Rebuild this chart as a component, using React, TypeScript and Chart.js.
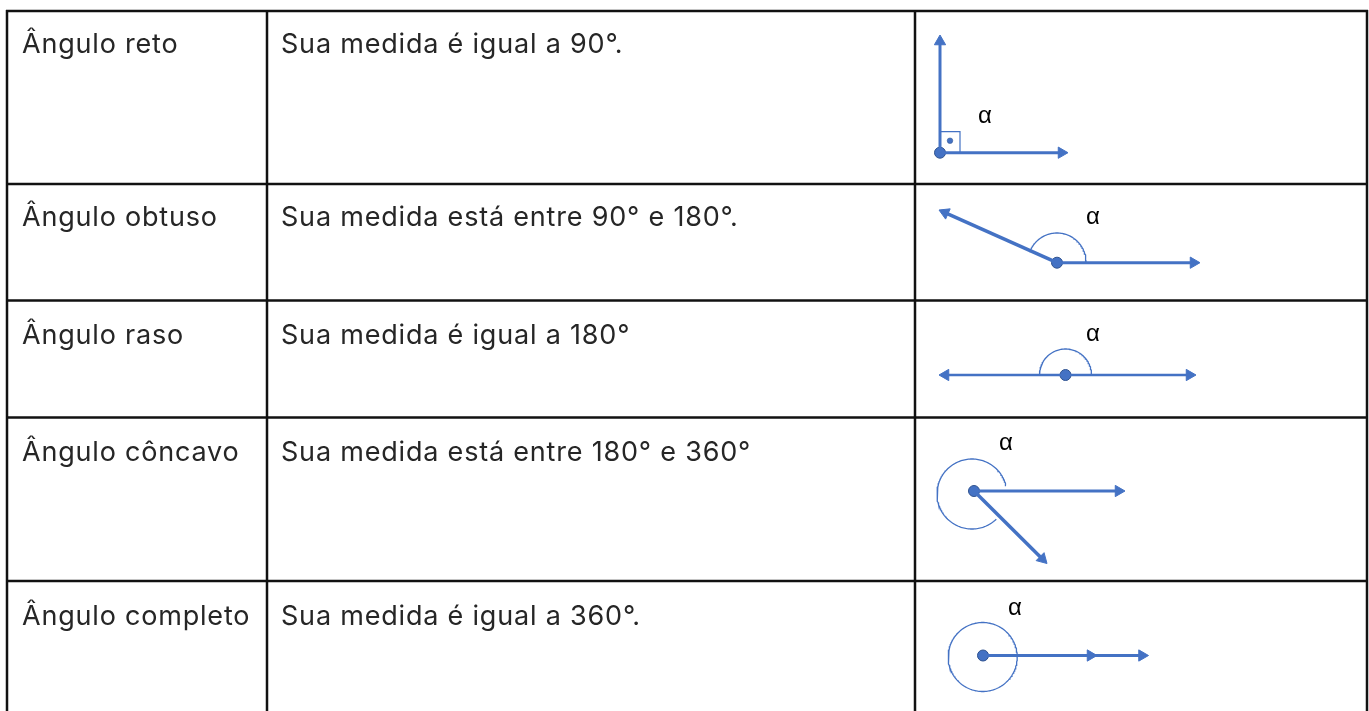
import React, { useEffect, useRef } from "react";
import { Chart, registerables } from "chart.js";

Chart.register(...registerables);

const W = 1369;
const H = 711;

// ---- table content ----
const angleNames = ["Ângulo reto", "Ângulo obtuso", "Ângulo raso", "Ângulo côncavo", "Ângulo completo"];
const descriptions = [
  "Sua medida é igual a 90°.",
  "Sua medida está entre 90° e 180°.",
  "Sua medida é igual a 180°",
  "Sua medida está entre 180° e 360°",
  "Sua medida é igual a 360°.",
];
const alphaLabel = "α";

// ---- table layout ----
const colX = [7, 267, 915, 1367];
const rowY = [11, 184, 300.5, 417.5, 581];
const rowTextY = [45, 218, 336, 453, 617];
const nameX = 22;
const descX = 281;

// ---- diagrams (one per row) ----
const vertexX = [940, 1057, 1065.5, 974, 983];
const vertexY = [152.7, 262.7, 375, 491, 655.5];
// rays: [vertex index, tip x, tip y]
const rayVertex = [0, 0, 1, 1, 2, 2, 3, 3, 4];
const rayTipX = [940, 1068, 939, 1200, 939, 1196, 1125, 1047, 1148.5];
const rayTipY = [35, 152.7, 210, 262.7, 375, 375, 491, 563.5, 655.5];
const rayWidth = [3, 3, 3.5, 3, 2.5, 2.5, 3, 3.5, 3];
// extra arrowhead on the full-angle ray
const extraHeadX = [1097];
const extraHeadY = [655.5];
const extraHeadFromX = [983];
const extraHeadFromY = [655.5];
// arcs: centre, radius, start and end angle (degrees, counter-clockwise)
const arcCX = [1057, 1065.5, 972, 982.7];
const arcCY = [262, 375, 494, 657];
const arcR = [29, 26, 35, 34.5];
const arcStart = [0, 0, 14, 0];
const arcEnd = [156, 180, 315, 360];
// right-angle marker
const squareX = [940, 960, 960];
const squareY = [131.7, 131.7, 152.7];
const squareDotX = [950];
const squareDotY = [140.7];
// alpha labels
const alphaX = [985, 1093, 1093, 1006, 1015];
const alphaY = [116, 217, 334, 443, 608];

const BLUE = "#4472C4";
const BLUE_DARK = "#2F528F";
const HEAD_R = 6.5;

function lineDs(points: { x: number; y: number }[], color: string, width: number) {
  return {
    type: "scatter" as const,
    data: points,
    showLine: true,
    borderColor: color,
    backgroundColor: color,
    borderWidth: width,
    pointRadius: 0,
    pointHoverRadius: 0,
    fill: false,
    tension: 0,
    clip: false as const,
    borderCapStyle: "butt" as const,
  };
}

function buildDatasets() {
  const ds: any[] = [];
  // grid
  rowY.forEach((y) => ds.push(lineDs([{ x: colX[0] - 1, y }, { x: colX[3] + 1, y }], "#111", 2.5)));
  colX.forEach((x) => ds.push(lineDs([{ x, y: rowY[0] - 1 }, { x, y: H + 2 }], "#111", 2.5)));

  // arcs
  arcCX.forEach((cx, i) => {
    const pts: { x: number; y: number }[] = [];
    for (let a = arcStart[i]; a <= arcEnd[i] + 0.001; a += 2) {
      const rad = (a * Math.PI) / 180;
      pts.push({ x: cx + arcR[i] * Math.cos(rad), y: arcCY[i] - arcR[i] * Math.sin(rad) });
    }
    ds.push(lineDs(pts, BLUE, 1.3));
  });

  // square marker
  ds.push(lineDs(squareX.map((x, i) => ({ x, y: squareY[i] })), BLUE, 1.2));

  // rays and arrowheads
  const heads: { x: number; y: number }[] = [];
  const rots: number[] = [];
  const addHead = (fx: number, fy: number, tx: number, ty: number) => {
    const dx = tx - fx;
    const dy = ty - fy;
    const len = Math.hypot(dx, dy);
    const ux = dx / len;
    const uy = dy / len;
    heads.push({ x: tx - ux * HEAD_R, y: ty - uy * HEAD_R });
    rots.push((Math.atan2(uy, ux) * 180) / Math.PI + 90);
    return { x: tx - ux * HEAD_R, y: ty - uy * HEAD_R };
  };
  rayTipX.forEach((tx, i) => {
    const v = rayVertex[i];
    const fx = vertexX[v];
    const fy = vertexY[v];
    const end = addHead(fx, fy, tx, rayTipY[i]);
    ds.push(lineDs([{ x: fx, y: fy }, end], BLUE, rayWidth[i]));
  });
  extraHeadX.forEach((tx, i) => addHead(extraHeadFromX[i], extraHeadFromY[i], tx, extraHeadY[i]));
  ds.push({
    type: "scatter",
    data: heads,
    pointStyle: "triangle",
    pointRadius: HEAD_R,
    pointHoverRadius: HEAD_R,
    rotation: rots,
    backgroundColor: BLUE,
    borderColor: BLUE,
    borderWidth: 1,
    clip: false,
  });

  // vertex dots
  ds.push({
    type: "scatter",
    data: vertexX.map((x, i) => ({ x, y: vertexY[i] })),
    pointRadius: 5.5,
    pointHoverRadius: 5.5,
    backgroundColor: BLUE,
    borderColor: BLUE_DARK,
    borderWidth: 1,
    clip: false,
  });
  // dot in the right-angle square
  ds.push({
    type: "scatter",
    data: squareDotX.map((x, i) => ({ x, y: squareDotY[i] })),
    pointRadius: 2.8,
    pointHoverRadius: 2.8,
    backgroundColor: BLUE,
    borderColor: BLUE_DARK,
    borderWidth: 0.5,
    clip: false,
  });
  return ds;
}

const textPlugin = {
  id: "tableText",
  afterDatasetsDraw(chart: any) {
    const { ctx, scales } = chart;
    const xs = scales.x;
    const ys = scales.y;
    ctx.save();
    ctx.textBaseline = "middle";
    ctx.textAlign = "left";
    ctx.fillStyle = "#262626";
    ctx.font = "400 27px Inter";
    try {
      (ctx as any).letterSpacing = "0.8px";
    } catch (e) {
      /* ignore */
    }
    angleNames.forEach((t, i) => {
      ctx.fillText(t, xs.getPixelForValue(nameX), ys.getPixelForValue(rowTextY[i]));
    });
    descriptions.forEach((t, i) => {
      ctx.fillText(t, xs.getPixelForValue(descX), ys.getPixelForValue(rowTextY[i]));
    });
    try {
      (ctx as any).letterSpacing = "0px";
    } catch (e) {
      /* ignore */
    }
    ctx.fillStyle = "#000";
    ctx.textAlign = "center";
    ctx.font = "400 24px 'Liberation Sans'";
    alphaX.forEach((x, i) => {
      ctx.fillText(alphaLabel, xs.getPixelForValue(x), ys.getPixelForValue(alphaY[i]));
    });
    ctx.restore();
  },
};

export default function App() {
  const ref = useRef<HTMLCanvasElement | null>(null);
  useEffect(() => {
    if (!ref.current) return;
    const chart = new Chart(ref.current, {
      type: "scatter",
      data: { datasets: buildDatasets() },
      options: {
        responsive: false,
        animation: false,
        events: [],
        layout: { padding: 0, autoPadding: false },
        plugins: { legend: { display: false }, tooltip: { enabled: false }, title: { display: false } },
        scales: {
          x: { type: "linear", min: 0, max: W, display: false },
          y: { type: "linear", min: 0, max: H, reverse: true, display: false },
        },
      },
      plugins: [textPlugin],
    });
    return () => chart.destroy();
  }, []);
  return (
    <div style={{ position: "fixed", left: 0, top: 0, width: W, height: H, background: "#fff" }}>
      <canvas ref={ref} width={W} height={H} style={{ display: "block", width: W, height: H }} />
    </div>
  );
}
